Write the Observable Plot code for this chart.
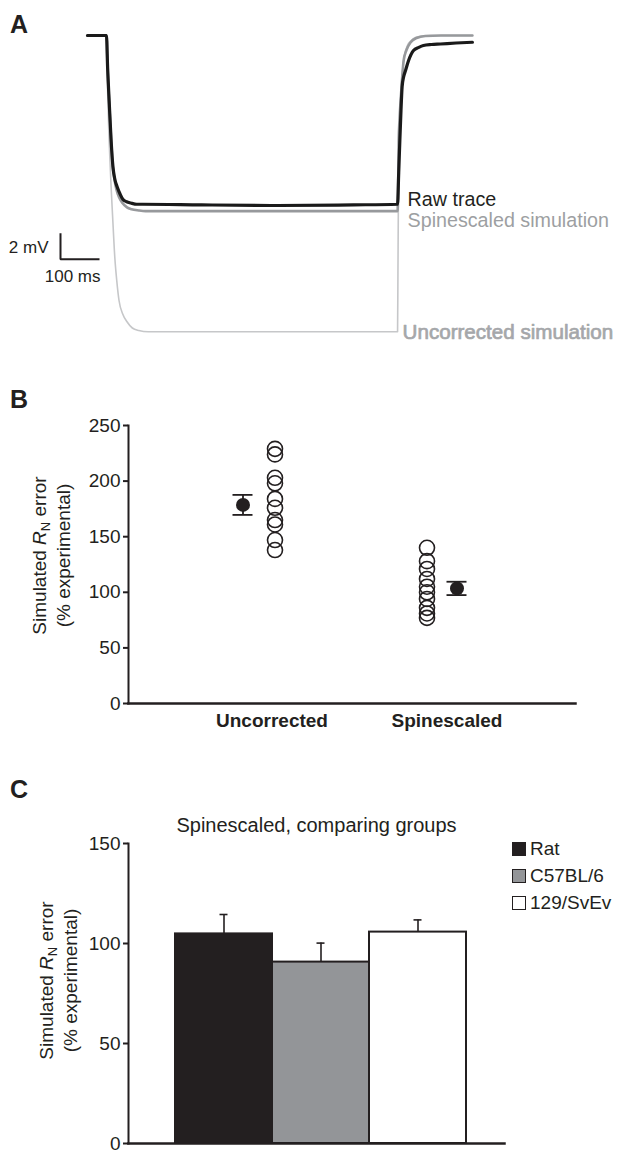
<!DOCTYPE html>
<html><head><meta charset="utf-8">
<script src="https://cdn.jsdelivr.net/npm/d3@7"></script>
<script src="https://cdn.jsdelivr.net/npm/@observablehq/plot@0.6"></script>
<style>
body{margin:0;background:#fff;}
#fig{position:relative;width:618px;height:1152px;font-family:"Liberation Sans",Arial,Helvetica,sans-serif;color:#231f20;overflow:hidden;background:#fff}
.panel{position:absolute;left:0}
.letter{position:absolute;left:10px;font-weight:bold;font-size:25px;line-height:25px}
.legend{position:absolute;left:512px;top:835px;font-size:19px;line-height:27px}
.legend div{display:flex;align-items:center;height:27px}
.legend span.sw{display:inline-block;width:12px;height:12px;border:1.5px solid #231f20;margin-right:4px}
</style></head><body><div id="fig"></div>
<script>
// ---------- Panel A: voltage traces (time in ms, change in mV) ----------
const rawTime  = [0, 50, 53, 57, 62, 67, 72, 78, 86, 93, 103, 114, 130, 145, 300, 500, 700, 816, 819, 822, 825, 828, 832, 837, 845, 858, 872, 884, 905, 929, 970, 1013];
const rawV     = [0, 0, -2.6, -5.2, -8.3, -10.5, -11.5, -12.1, -12.7, -13.1, -13.3, -13.4, -13.5, -13.5, -13.55, -13.6, -13.55, -13.5, -11, -8.4, -6, -4.1, -3.3, -2.8, -2.0, -1.2, -0.95, -0.8, -0.72, -0.68, -0.6, -0.54];
const spineTime = [0, 50, 53, 57, 62, 66, 71, 76, 84, 92, 104, 116, 135, 153, 300, 500, 700, 816, 818, 819, 821, 824, 828, 832, 839, 850, 866, 889, 930, 1013];
const spineV    = [0, 0, -2.7, -5.3, -8.2, -10.3, -11.5, -12.3, -13.0, -13.4, -13.75, -13.9, -14.0, -14.05, -14.05, -14.05, -14.05, -14.05, -11, -8.4, -6.8, -5.2, -3.4, -2.0, -1.2, -0.56, -0.2, -0.04, 0, 0];
const uncTime = [0, 50, 53, 56, 59, 62, 66, 72, 77, 83, 93, 104, 118, 135, 160, 187, 400, 600, 816, 817, 818, 819, 821, 823, 825, 828, 832, 842, 852, 863, 880, 902, 1013];
const uncV    = [0, 0, -4.4, -7.6, -9.9, -12, -14.4, -17.8, -19.6, -21.2, -22.3, -22.9, -23.4, -23.6, -23.7, -23.7, -23.7, -23.7, -23.7, -19, -14, -10, -7.4, -5.7, -4.4, -3.2, -2.0, -0.8, -0.4, -0.16, -0.05, 0, 0];
const pulseEnd = 816;
const traceLabels = ["Raw trace", "Spinescaled simulation", "Uncorrected simulation"];
const scaleBarMs = 100, scaleBarMv = 2;
const scaleBarOrigin = {t: -71, v: -17.9};

// ---------- Panel B ----------
const groupsB = ["Uncorrected", "Spinescaled"];
const uncorrectedCells = [229, 224, 203, 198, 184, 176, 165, 161, 147, 138];
const spinescaledCells = [140, 128, 121, 112, 105, 100, 94, 86, 81, 77];
const meanB = [178.6, 103.5];
const semB  = [9, 6];
const ticksB = [0, 50, 100, 150, 200, 250];

// ---------- Panel C ----------
const titleC = "Spinescaled, comparing groups";
const groupsC = ["Rat", "C57BL/6", "129/SvEv"];
const meanC = [104.8, 90.7, 105.7];
const semC  = [9.7, 9.5, 6.1];
const colorsC = ["#231f20", "#939598", "#ffffff"];
const ticksC = [0, 50, 100, 150];

const yTitle1 = "Simulated RN error";
const yTitle2 = "(% experimental)";

const dark = "#231f20";
const font = '"Liberation Sans", Arial, Helvetica, sans-serif';
const fig = document.getElementById("fig");

function rows(T, V) { return T.map((t, i) => ({t, v: V[i]})); }
const rawRows = rows(rawTime, rawV), spineRows = rows(spineTime, spineV), uncRows = rows(uncTime, uncV);
const atEnd = d => d.t === pulseEnd;

function place(el, top) { el.classList.add("panel"); el.style.top = top + "px"; fig.appendChild(el); }

// ----- A -----
const sb = [
  {t: scaleBarOrigin.t, v: scaleBarOrigin.v + scaleBarMv},
  {t: scaleBarOrigin.t, v: scaleBarOrigin.v},
  {t: scaleBarOrigin.t + scaleBarMs, v: scaleBarOrigin.v}
];
const A = Plot.plot({
  width: 618, height: 350, margin: 0,
  style: {fontFamily: font, fontSize: "19px", color: dark, background: "transparent"},
  x: {domain: [-228.9, 1397.4], axis: null},
  y: {domain: [-25.2, 2.8], axis: null},
  marks: [
    Plot.line(uncRows, {x: "t", y: "v", curve: "monotone-x", stroke: "#c6c7c9", strokeWidth: 1.6}),
    Plot.line(spineRows, {x: "t", y: "v", curve: "monotone-x", stroke: "#97999c", strokeWidth: 2.6}),
    Plot.line(rawRows, {x: "t", y: "v", curve: "monotone-x", stroke: "#1a1a1a", strokeWidth: 3.2}),
    Plot.text(rawRows, {filter: atEnd, x: "t", y: "v", text: () => traceLabels[0], textAnchor: "start", lineAnchor: "bottom", dx: 10, dy: 2, fontSize: 19.7, fill: dark}),
    Plot.text(spineRows, {filter: atEnd, x: "t", y: "v", text: () => traceLabels[1], textAnchor: "start", lineAnchor: "bottom", dx: 10, dy: 15.5, fontSize: 19.7, fill: "#9d9fa2"}),
    Plot.text(uncRows, {filter: atEnd, x: "t", y: "v", text: () => traceLabels[2], textAnchor: "start", lineAnchor: "bottom", dx: 5, dy: 7, fontSize: 20.6, fill: "#a5a7aa", stroke: "#a5a7aa", strokeWidth: 0.7}),
    Plot.line(sb, {x: "t", y: "v", stroke: dark, strokeWidth: 2, strokeLinejoin: "miter", strokeLinecap: "square"}),
    Plot.text([sb[0]], {x: "t", y: () => scaleBarOrigin.v + scaleBarMv / 2, text: () => scaleBarMv + " mV", textAnchor: "end", dx: -12, dy: 1, fontSize: 17, fill: dark}),
    Plot.text([sb[2]], {x: "t", y: "v", text: () => scaleBarMs + " ms", textAnchor: "end", lineAnchor: "top", dx: 2, dy: 11, fontSize: 17, fill: dark})
  ]
});
place(A, 0);

// ----- B -----
const meanRowsB = groupsB.map((g, i) => ({group: g, mean: meanB[i], lo: meanB[i] - semB[i], hi: meanB[i] + semB[i]}));
const cellRowsB = [
  ...uncorrectedCells.map(v => ({group: groupsB[0], value: v})),
  ...spinescaledCells.map(v => ({group: groupsB[1], value: v}))
];
function meanMarks(g, dx) {
  const f = d => d.group === g;
  return [
    Plot.ruleX(meanRowsB, {filter: f, x: "group", y1: "lo", y2: "hi", dx, stroke: dark, strokeWidth: 1.8}),
    Plot.tickY(meanRowsB, {filter: f, x: "group", y: "lo", dx, insetLeft: 81.5, insetRight: 81.5, stroke: dark, strokeWidth: 1.8}),
    Plot.tickY(meanRowsB, {filter: f, x: "group", y: "hi", dx, insetLeft: 81.5, insetRight: 81.5, stroke: dark, strokeWidth: 1.8}),
    Plot.dot(meanRowsB, {filter: f, x: "group", y: "mean", dx, r: 7, fill: dark, stroke: "none"})
  ];
}
const B = Plot.plot({
  width: 618, height: 360, marginTop: 45, marginBottom: 37, marginLeft: 128, marginRight: 43,
  style: {fontFamily: font, fontSize: "19px", color: dark, background: "transparent"},
  x: {type: "band", domain: groupsB, range: [166.5, 532.5], padding: 0, axis: null},
  y: {domain: [0, 250], axis: null},
  marks: [
    Plot.axisY({ticks: ticksB, tickSize: 5, tickPadding: 3, strokeWidth: 2, stroke: dark, label: null}),
    Plot.frame({anchor: "left", stroke: dark, strokeWidth: 2}),
    Plot.frame({anchor: "bottom", stroke: dark, strokeWidth: 2.5}),
    Plot.dot(cellRowsB, {filter: d => d.group === groupsB[0], x: "group", y: "value", dx: 16, r: 7.5, stroke: dark, strokeWidth: 1.6, fill: "none"}),
    Plot.dot(cellRowsB, {filter: d => d.group === groupsB[1], x: "group", y: "value", dx: -15, r: 7.5, stroke: dark, strokeWidth: 1.6, fill: "none"}),
    ...meanMarks(groupsB[0], -16),
    ...meanMarks(groupsB[1], 15),
    Plot.text([groupsB[0]], {x: d => d, frameAnchor: "bottom", lineAnchor: "top", dx: 13, dy: 10, fontWeight: "bold", fill: dark}),
    Plot.text([groupsB[1]], {x: d => d, frameAnchor: "bottom", lineAnchor: "top", dx: 5, dy: 10, fontWeight: "bold", fill: dark}),
    Plot.text([yTitle1], {frameAnchor: "left", textAnchor: "middle", rotate: -90, dx: -89, dy: -9, fill: dark}),
    Plot.text([yTitle2], {frameAnchor: "left", textAnchor: "middle", rotate: -90, dx: -65, dy: -9, fill: dark})
  ]
});
place(B, 380);

// ----- C -----
const rowsC = groupsC.map((g, i) => ({group: g, mean: meanC[i], hi: meanC[i] + semC[i]}));
const C = Plot.plot({
  width: 618, height: 392, marginTop: 83, marginBottom: 9, marginLeft: 128, marginRight: 114,
  style: {fontFamily: font, fontSize: "19px", color: dark, background: "transparent"},
  x: {type: "band", domain: groupsC, range: [174, 466], padding: 0, axis: null},
  y: {domain: [0, 150], axis: null},
  color: {domain: groupsC, range: colorsC},
  marks: [
    Plot.barY(rowsC, {x: "group", y: "mean", fill: "group", stroke: dark, strokeWidth: 2}),
    Plot.ruleX(rowsC, {x: "group", y1: "mean", y2: "hi", stroke: dark, strokeWidth: 1.6}),
    Plot.tickY(rowsC, {x: "group", y: "hi", insetLeft: 44.5, insetRight: 44.5, stroke: dark, strokeWidth: 1.6}),
    Plot.axisY({ticks: ticksC, tickSize: 5, tickPadding: 3, strokeWidth: 2, stroke: dark, label: null}),
    Plot.frame({anchor: "left", stroke: dark, strokeWidth: 2}),
    Plot.frame({anchor: "bottom", stroke: dark, strokeWidth: 2.5}),
    Plot.text([titleC], {frameAnchor: "top", dy: -26, fontSize: 20, fill: dark}),
    Plot.text([yTitle1], {frameAnchor: "left", textAnchor: "middle", rotate: -90, dx: -82, dy: -13, fill: dark}),
    Plot.text([yTitle2], {frameAnchor: "left", textAnchor: "middle", rotate: -90, dx: -58, dy: -13, fill: dark})
  ]
});
place(C, 760);

// italic R with subscript N in the axis titles
const NS = "http://www.w3.org/2000/svg";
fig.querySelectorAll("svg text").forEach(t => {
  if (t.textContent === yTitle1) {
    t.textContent = "";
    const parts = [["Simulated ", {}], ["R", {"font-style": "italic"}], ["N", {"font-size": "13px", "dy": "4"}], [" error", {"dy": "-4"}]];
    for (const [s, attrs] of parts) {
      const sp = document.createElementNS(NS, "tspan");
      for (const k in attrs) sp.setAttribute(k, attrs[k]);
      sp.textContent = s;
      t.appendChild(sp);
    }
  }
});

// panel letters
[["A", 12], ["B", 387], ["C", 777]].forEach(([l, top]) => {
  const d = document.createElement("div");
  d.className = "letter"; d.style.top = top + "px"; d.textContent = l; fig.appendChild(d);
});

// legend for C
const leg = document.createElement("div");
leg.className = "legend";
groupsC.forEach((g, i) => {
  const row = document.createElement("div");
  const sw = document.createElement("span");
  sw.className = "sw"; sw.style.background = colorsC[i];
  const tx = document.createElement("span"); tx.textContent = g;
  row.appendChild(sw); row.appendChild(tx); leg.appendChild(row);
});
fig.appendChild(leg);
</script>
</body></html>
